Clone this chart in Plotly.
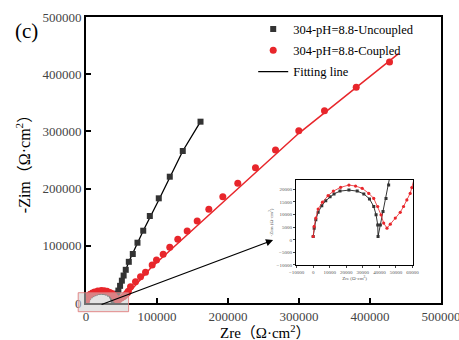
import plotly.graph_objects as go

# ---------------- data ----------------
unc_re = [0, 600, 1600, 3000, 5200, 7600, 10200, 12600, 16200, 21600, 26600, 30600, 34000,
          36600, 38000, 39000, 39200, 40600, 42200, 44000, 45600,
          48000, 50500, 53000, 56000, 60300, 65900, 72500, 80600, 89900, 102500, 118000,
          136300, 161300]
unc_im = [1300, 4600, 7900, 10900, 13500, 15500, 17100, 18200, 19300, 19700, 19300, 18200, 16200,
          13200, 9900, 5900, 1300, 5900, 11200, 16400, 21700,
          30000, 39000, 48000, 58000, 72000, 85700, 105400, 126400, 152100, 183000, 220800,
          265700, 317000]

cou_re = [0, 600, 1600, 3000, 5600, 9000, 12200, 16600, 21600, 25600, 29600, 33600, 36600,
          39000, 41000, 42600, 44600, 46600, 49600, 52600, 54600, 56600, 58600, 59600,
          62700, 69700, 76800, 83800, 93200, 99300, 108700, 118000, 129300, 142500, 156600,
          173000, 192700, 213800, 238700, 266900, 299700, 335900, 380600, 427500]
cou_im = [1300, 5300, 8600, 12200, 14900, 17500, 19300, 20800, 21700, 21300, 20400, 18400, 16400,
          13200, 9900, 6600, 4600, 6200, 8600, 10900, 13200, 15800, 18400, 20700,
          28500, 37200, 46000, 53700, 66400, 75200, 85100, 97400, 111400, 125900, 143400,
          163800, 185800, 209300, 236500, 267500, 301200, 336200, 377100, 421300]

# fitting curves (low-frequency part)
unc_fit_re = [39200, 45600, 60300, 80600, 102500, 136300, 161300]
unc_fit_im = [1300, 21700, 72000, 126400, 180000, 265700, 317000]
cou_fit_re = [44600, 55600, 90800, 213800, 299700, 440600]
cou_fit_im = [4600, 11000, 60700, 200500, 296700, 436500]

x_ticks = [0, 100000, 200000, 300000, 400000, 500000]
y_ticks = [0, 100000, 200000, 300000, 400000, 500000]
inset_x_ticks = [-10000, 0, 10000, 20000, 30000, 40000, 50000, 60000]
inset_y_ticks = [-10000, -5000, 0, 5000, 10000, 15000, 20000]

# zoom box around the origin (data units of main axes)
box_re = [-11000, 60000]
box_im = [-15200, 18000]

SERIF = "Liberation Serif, DejaVu Serif, Noto Sans CJK SC, serif"
BLACK = "#333333"
RED = "#e8262b"
X_RANGE = [0, 500000]
Y_RANGE = [0, 500000]

fig = go.Figure()

# ---------------- main plot ----------------
fig.add_trace(go.Scatter(x=unc_fit_re, y=unc_fit_im, mode="lines",
                         line=dict(color="black", width=1.3), name="Fitting line",
                         legendrank=3, legendgroup="c"))
fig.add_trace(go.Scatter(x=cou_fit_re, y=cou_fit_im, mode="lines",
                         line=dict(color=RED, width=1.5), showlegend=False))
fig.add_trace(go.Scatter(x=unc_re, y=unc_im, mode="markers", name="304-pH=8.8-Uncoupled",
                         marker=dict(symbol="square", size=6, color=BLACK), legendrank=1,
                         legendgroup="a"))
fig.add_trace(go.Scatter(x=cou_re, y=cou_im, mode="markers", name="304-pH=8.8-Coupled",
                         marker=dict(symbol="circle", size=7, color=RED), legendrank=2,
                         legendgroup="b"))

# ---------------- inset ----------------
fig.add_trace(go.Scatter(x=unc_re, y=unc_im, mode="lines+markers", xaxis="x2", yaxis="y2",
                         line=dict(color="black", width=0.8),
                         marker=dict(symbol="square", size=3, color=BLACK), showlegend=False))
fig.add_trace(go.Scatter(x=cou_re, y=cou_im, mode="lines+markers", xaxis="x2", yaxis="y2",
                         line=dict(color=RED, width=0.8),
                         marker=dict(symbol="circle", size=3.2, color=RED), showlegend=False))


def to_paper(v, rng):
    return (v - rng[0]) / (rng[1] - rng[0])


fig.add_shape(type="rect", xref="paper", yref="paper",
              x0=to_paper(box_re[0], X_RANGE), x1=to_paper(box_re[1], X_RANGE),
              y0=to_paper(box_im[0], Y_RANGE), y1=to_paper(box_im[1], Y_RANGE),
              fillcolor="rgba(205,205,205,0.55)", line=dict(color="rgba(225,120,120,0.85)", width=1),
              layer="above")

fig.add_annotation(xref="paper", yref="paper", x=0.527, y=0.220, ax=-173, ay=65,
                   text="", showarrow=True, arrowhead=2, arrowsize=1.1, arrowwidth=1.3,
                   arrowcolor="black")

fig.add_annotation(xref="paper", yref="paper", x=-0.205, y=1.0, xanchor="left", yanchor="top",
                   text="(c)", showarrow=False, font=dict(family=SERIF, size=21, color="black"))

fig.add_annotation(xref="paper", yref="paper", x=0.505, y=-0.102, xanchor="center",
                   yanchor="middle", text="Zre（Ω·cm<sup>2</sup>）", showarrow=False,
                   font=dict(family=SERIF, size=15, color="black"))

main_axis = dict(showline=True, linewidth=2, linecolor="black", mirror=True,
                 ticks="inside", ticklen=5, tickwidth=1.5, tickcolor="black",
                 showgrid=False, zeroline=False, tickformat="d", automargin=False,
                 ticklabeloverflow="allow",
                 tickfont=dict(family=SERIF, size=13, color="#444444"))

fig.update_layout(
    width=459, height=340,
    margin=dict(l=86, r=18, t=17, b=37, autoexpand=False),
    paper_bgcolor="white", plot_bgcolor="white",
    font=dict(family=SERIF, color="black"),
    xaxis=dict(main_axis, range=X_RANGE, tickvals=x_ticks, ticklabelstandoff=0),
    yaxis=dict(main_axis, range=Y_RANGE, tickvals=y_ticks,
               title=dict(text="-Zim（Ω·cm<sup>2</sup>）", font=dict(family=SERIF, size=16), standoff=8)),
    xaxis2=dict(domain=[0.591, 0.922], anchor="y2", range=[-10500, 60500], tickvals=inset_x_ticks,
                showline=True, linewidth=0.8, linecolor="black", mirror=True, ticks="outside",
                ticklen=2, tickwidth=0.6, showgrid=False, zeroline=False, tickformat="d",
                automargin=False,
                tickfont=dict(family=SERIF, size=5, color="#555555"),
                title=dict(text="Zre (Ω·cm<sup>2</sup>)", font=dict(family=SERIF, size=5, color="#555555"),
                           standoff=2)),
    yaxis2=dict(domain=[0.133, 0.430], anchor="x2", range=[-10000, 23700], tickvals=inset_y_ticks,
                showline=True, linewidth=0.8, linecolor="black", mirror=True, ticks="outside",
                ticklen=2, tickwidth=0.6, showgrid=False, zeroline=False, tickformat="d",
                automargin=False,
                tickfont=dict(family=SERIF, size=5, color="#555555"),
                title=dict(text="-Zim (Ω·cm<sup>2</sup>)", font=dict(family=SERIF, size=5, color="#555555"),
                           standoff=2)),
    legend=dict(x=0.471, y=1.009, xanchor="left", yanchor="top", bgcolor="rgba(0,0,0,0)",
                font=dict(family=SERIF, size=12.5, color="black"), itemwidth=30,
                tracegroupgap=2),
)

fig.write_html("out.html")
